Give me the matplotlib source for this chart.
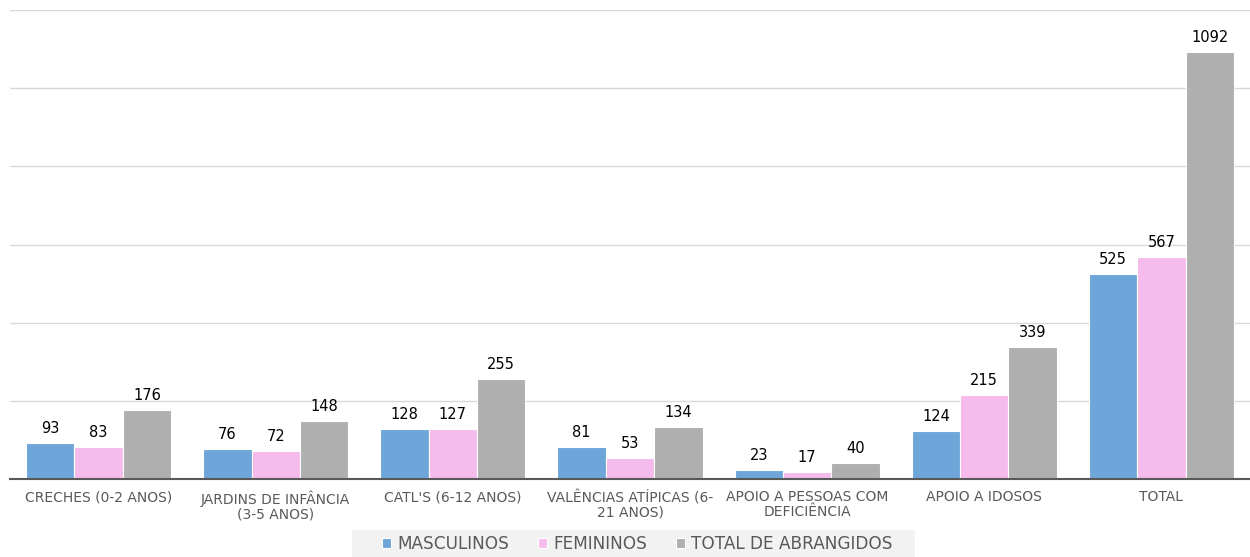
import matplotlib
matplotlib.use("Agg")
import matplotlib.pyplot as plt
from matplotlib.patches import Rectangle
import numpy as np

categories = ["CRECHES (0-2 ANOS)", "JARDINS DE INFÂNCIA\n(3-5 ANOS)", "CATL'S (6-12 ANOS)",
              "VALÊNCIAS ATÍPICAS (6-\n21 ANOS)", "APOIO A PESSOAS COM\nDEFICIÊNCIA",
              "APOIO A IDOSOS", "TOTAL"]
masculinos = [93, 76, 128, 81, 23, 124, 525]
femininos = [83, 72, 127, 53, 17, 215, 567]
total = [176, 148, 255, 134, 40, 339, 1092]
series_names = ["MASCULINOS", "FEMININOS", "TOTAL DE ABRANGIDOS"]
colors = ["#6fa6d9", "#f5bbec", "#afafaf"]

plt.rcParams['font.family'] = ['DejaVu Sans']
fig = plt.figure(figsize=(12.5, 5.57), dpi=100)
ax = fig.add_axes([0.008, 0.140, 0.992, 0.842])

x = np.arange(len(categories))
w = 0.273
for i, (vals, name, c) in enumerate(zip([masculinos, femininos, total], series_names, colors)):
    bars = ax.bar(x + (i - 1) * w, vals, w, color=c, edgecolor="white", linewidth=0.8, label=name, zorder=3)
    for b, v in zip(bars, vals):
        ax.annotate(str(v), (b.get_x() + b.get_width() / 2, v), xytext=(0, 5),
                    textcoords="offset points", ha="center", va="bottom",
                    fontsize=10.5, color="black")

ax.set_xlim(-0.5, len(categories) - 0.5)
ax.set_ylim(0, 1200)
ax.set_yticks(np.arange(0, 1201, 200))
ax.yaxis.grid(True, color="#d9d9d9", linewidth=1, zorder=0)
ax.tick_params(axis="y", left=False, labelleft=False)
ax.set_xticks(x)
ax.set_xticklabels(categories, fontsize=10, color="#595959", linespacing=1.05)
ax.tick_params(axis="x", length=0, pad=8)
for s in ["top", "right", "left"]:
    ax.spines[s].set_visible(False)
ax.spines["bottom"].set_color("#595959")
ax.spines["bottom"].set_linewidth(1.5)
ax.spines["bottom"].set_zorder(4)

fig.patches.append(Rectangle((352 / 1250, 0), 563 / 1250, 27 / 557, transform=fig.transFigure,
                             facecolor="#f2f2f2", edgecolor="none", zorder=0))
leg = fig.legend(loc="center", bbox_to_anchor=(637 / 1250, 13 / 557), ncol=3, frameon=False,
                 fontsize=12.2, handlelength=0.55, handleheight=0.55, handletextpad=0.35,
                 columnspacing=1.7, borderpad=0.1, labelcolor="#595959")

fig.savefig("out.png", dpi=100, facecolor="white")
